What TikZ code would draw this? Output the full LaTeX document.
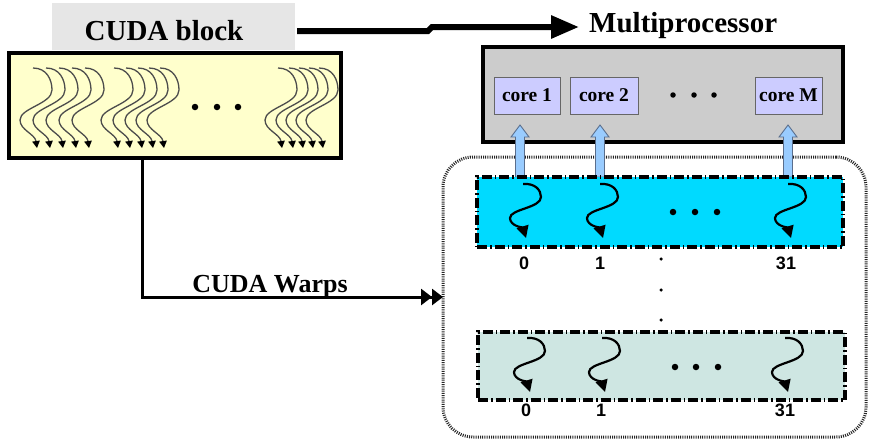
\documentclass[tikz,border=0pt]{standalone}
\usepackage{fontspec}
\setmainfont{Liberation Serif}
\newfontfamily\arialfont{Liberation Sans}
\usetikzlibrary{arrows.meta,calc}
\definecolor{lblgray}{RGB}{230,230,230}
\definecolor{blockyellow}{RGB}{255,255,204}
\definecolor{mpgray}{RGB}{204,204,204}
\definecolor{corefill}{RGB}{204,204,255}
\definecolor{arrowblue}{RGB}{153,204,255}
\definecolor{arrowedge}{RGB}{90,110,140}
\definecolor{warpcyan}{RGB}{0,218,255}
\definecolor{warpteal}{RGB}{206,230,226}
\tikzset{
  box/.style={anchor=north west, inner sep=0pt, outer sep=0pt},
  bigtext/.style={font=\bfseries\fontsize{29}{31}\selectfont, inner sep=0pt},
  warptext/.style={font=\bfseries\fontsize{26}{28}\selectfont, inner sep=0pt},
  corebox/.style={box, draw=black!60, line width=1pt, fill=corefill,
    font=\bfseries\fontsize{19.5}{21}\selectfont},
  warpbox/.style={box, draw=black, line width=3.5pt,
    dash pattern=on 10pt off 3pt on 1.5pt off 3pt},
  idx/.style={font=\arialfont\bfseries\fontsize{18}{20}\selectfont, inner sep=0pt},
  bthr/.style={draw=black!70, line width=1.3pt,
    -{Triangle[length=7pt,width=7.5pt,color=black,fill=black]}},
  wthr/.style={draw=black, line width=2.2pt, -{Triangle[length=12pt,width=12pt]}},
  hollow/.style={draw=arrowedge, line width=0.9pt, fill=arrowblue},
  bigdot/.style={circle, fill=black, inner sep=0pt, minimum size=6.5pt},
  smalldot/.style={circle, fill=black, inner sep=0pt, minimum size=3.5pt},
  bthread/.pic={\path[bthr] (0,0) .. controls (14,0) and (19,12) .. (19,22)
      .. controls (19,36) and (-13,40) .. (-13,52)
      .. controls (-13,62) and (2,66) .. (4,80);},
  wthread/.pic={\path[wthr] (0,0) .. controls (12,-1) and (18,6) .. (18,13)
      .. controls (18,24) and (-13,25) .. (-13,34)
      .. controls (-13,42) and (0,44) .. (3,54);}
}
\begin{document}
\begin{tikzpicture}[x=1pt,y=-1pt]
\useasboundingbox (0,0) rectangle (870,442);

% CUDA block label
\node[box, fill=lblgray, minimum width=243pt, minimum height=47pt] (lbl) at (52,3) {};
\node[bigtext] (lbltext) at (164,31) {CUDA block};

% yellow block
\node[box, draw=black, line width=3.2pt, fill=blockyellow,
      minimum width=332pt, minimum height=105pt] (block) at (9,53) {};
\foreach \x in {33,46,59,72,85,114,126,138,149,160,278,289,299,309,319}
  \pic at (\x,68) {bthread};
\foreach \x [count=\i] in {195,217,238}
  \node[bigdot] (bd\i) at (\x,107) {};

% Multiprocessor
\node[bigtext, anchor=west] (mptext) at (589,26) {Multiprocessor};
\node[box, draw=black, line width=3.2pt, fill=mpgray,
      minimum width=360pt, minimum height=95pt] (mp) at (483,47) {};
\node[corebox, minimum width=66pt, minimum height=37pt] (c1) at (494,77) {core 1};
\node[corebox, minimum width=68pt, minimum height=37pt] (c2) at (570,77) {core 2};
\node[corebox, minimum width=67pt, minimum height=37pt] (cM) at (755,77) {core M};
\foreach \x [count=\i] in {673,694,714}
  \node[bigdot, minimum size=5.5pt] (md\i) at (\x,95) {};

% heavy arrow block -> multiprocessor
\coordinate (hs) at (297,31);
\draw[line width=6pt, -{Triangle[length=28pt,width=22pt]}, shorten >=10pt]
  (hs) -- ++(131,0) -- ++(4,-4) -- (mptext.west |- 0,27);

% dotted rounded container
\node[box, draw=black!85, line width=3pt, dash pattern=on 1pt off 1.2pt,
      rounded corners=30pt, minimum width=423pt, minimum height=280pt] (warps) at (443,157) {};

% hollow arrows from warp to cores
\coordinate (a0) at (520,177);
\coordinate (a1) at (600,177);
\coordinate (a31) at (788,177);
\foreach \a in {a0,a1,a31}
  \draw[hollow] (\a) ++(-4.5,0) -- ++(0,-40) -- ++(-4.5,0) -- ++(9,-12)
     -- ++(9,12) -- ++(-4.5,0) -- ++(0,40) -- cycle;

% warp 1
\node[warpbox, fill=warpcyan, minimum width=366pt, minimum height=70pt] (w1) at (477,177) {};
\foreach \x in {523,600,788}
  \pic at (\x,184) {wthread};
\foreach \x [count=\i] in {673,695,717}
  \node[bigdot] (wd\i) at (\x,212) {};
\node[idx] (l0a) at (524,263) {0};
\node[idx] (l1a) at (600,263) {1};
\node[idx] (l31a) at (786,263) {31};

% vertical dots
\foreach \y [count=\i] in {259,290,320}
  \node[smalldot] (vd\i) at (661,\y) {};

% warp 2
\node[warpbox, fill=warpteal, minimum width=367pt, minimum height=68pt] (w2) at (478,332) {};
\foreach \x in {527,602,785}
  \pic at (\x,338) {wthread};
\foreach \x [count=\i] in {675,696,718}
  \node[bigdot] (we\i) at (\x,367) {};
\node[idx] (l0b) at (526,410) {0};
\node[idx] (l1b) at (601,410) {1};
\node[idx] (l31b) at (785,410) {31};

% CUDA Warps connector
\coordinate (wsrc) at ($(block.south west)+(133,0)$);
\draw[line width=3pt, -{Triangle[length=11pt,width=16pt] Triangle[length=11pt,width=16pt]}]
  (wsrc) |- (warps.west);
\node[warptext, anchor=base] (wl) at (270,292) {CUDA Warps};
\end{tikzpicture}
\end{document}
